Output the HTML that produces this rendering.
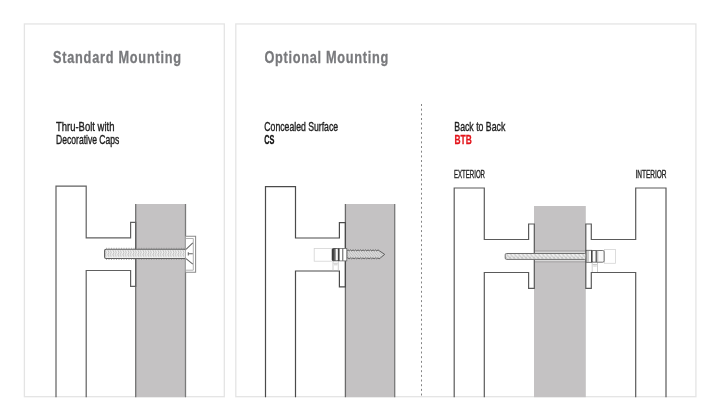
<!DOCTYPE html>
<html><head><meta charset="utf-8">
<style>
html,body{margin:0;padding:0;background:#fff;width:720px;height:420px;overflow:hidden}
svg{display:block;will-change:transform}
text{font-family:"Liberation Sans",sans-serif}
</style></head>
<body>
<svg width="720" height="420" viewBox="0 0 720 420">
<defs>
  <pattern id="dots" width="2.5" height="9.3" patternUnits="userSpaceOnUse" x="104.6" y="249.2">
    <rect width="2.5" height="9.3" fill="#efefef"/>
    <path d="M0.7,1 L1.8,3.2 L0.7,5.4 L1.8,7.6" fill="none" stroke="#a6a6a6" stroke-width="0.75"/>
  </pattern>
  <pattern id="hatch" width="4" height="4.4" patternUnits="userSpaceOnUse" x="505.2" y="254">
    <rect width="4" height="4.4" fill="#cdcdcd"/>
    <path d="M-1,0 L3.4,4.4 M3,0 L7.4,4.4 M-5,0 L-0.6,4.4" stroke="#f6f6f6" stroke-width="1.5"/>
    <path d="M0.3,4.2 L2.3,2.2" stroke="#a9a9a9" stroke-width="0.6"/>
  </pattern>
  <pattern id="sthread" width="2.5" height="8" patternUnits="userSpaceOnUse" patternTransform="skewX(40)">
    <rect width="2.5" height="8" fill="#dcdcdc"/>
    <rect x="0" y="0" width="1" height="8" fill="#bdbdbd"/>
  </pattern>
  <linearGradient id="cyl" x1="0" x2="1" y1="0" y2="0">
    <stop offset="0" stop-color="#1a1a1a"/>
    <stop offset="0.5" stop-color="#7a7a7a"/>
    <stop offset="0.68" stop-color="#f6f6f6"/>
    <stop offset="1" stop-color="#fff"/>
  </linearGradient>
  <linearGradient id="gband" x1="0" x2="1" y1="0" y2="0">
    <stop offset="0" stop-color="#4a4a4a"/>
    <stop offset="1" stop-color="#8a8a8a"/>
  </linearGradient>
</defs>

<!-- panels -->
<rect x="24.4" y="23.95" width="199.9" height="372.75" fill="none" stroke="#e4e4e4" stroke-width="1.3"/>
<rect x="235.8" y="23.95" width="460.1" height="372.75" fill="none" stroke="#e4e4e4" stroke-width="1.3"/>

<!-- titles -->
<text transform="translate(53,63) scale(0.75,1)" font-size="17" font-weight="bold" fill="#78797c" stroke="#78797c" stroke-width="0.3" textLength="170.7" lengthAdjust="spacing">Standard Mounting</text>
<text transform="translate(264.4,63) scale(0.75,1)" font-size="17" font-weight="bold" fill="#78797c" stroke="#78797c" stroke-width="0.3" textLength="165.3" lengthAdjust="spacing">Optional Mounting</text>

<!-- subtitles -->
<g fill="#1e1e1e" stroke="#1e1e1e" stroke-width="0.38">
<text x="56" y="130.8" font-size="11.9" textLength="58.4" lengthAdjust="spacingAndGlyphs">Thru-Bolt with</text>
<text x="56" y="143.5" font-size="11.9" textLength="63.4" lengthAdjust="spacingAndGlyphs">Decorative Caps</text>
<text x="264.3" y="130.8" font-size="11.9" textLength="73.8" lengthAdjust="spacingAndGlyphs">Concealed Surface</text>
<text x="454.3" y="130.7" font-size="11.9" textLength="51" lengthAdjust="spacingAndGlyphs">Back to Back</text>
<text x="454" y="177.9" font-size="10.9" textLength="31" lengthAdjust="spacingAndGlyphs">EXTERIOR</text>
<text x="635.4" y="177.9" font-size="10.9" textLength="31.2" lengthAdjust="spacingAndGlyphs">INTERIOR</text>
</g>
<text x="264.2" y="143.6" font-size="12.3" font-weight="bold" fill="#111" stroke="#111" stroke-width="0.3" textLength="10.2" lengthAdjust="spacingAndGlyphs">CS</text>
<text x="454.5" y="143.7" font-size="12.3" font-weight="bold" fill="#e3141b" stroke="#e3141b" stroke-width="0.3" textLength="17.3" lengthAdjust="spacingAndGlyphs">BTB</text>

<!-- dashed divider -->
<line x1="421.5" y1="104" x2="421.5" y2="397.2" stroke="#858585" stroke-width="1" stroke-dasharray="2 2.67"/>

<!-- ===== Diagram 1 ===== -->
<rect x="136" y="204" width="50" height="193.2" fill="#c4c2c3"/>
<line x1="135.7" y1="204" x2="135.7" y2="397.2" stroke="#727272" stroke-width="1.3"/>
<line x1="185.5" y1="204" x2="185.5" y2="397.2" stroke="#7a7a7a" stroke-width="1.3"/>
<path d="M56,397.2 V186.1 H86.2 V237.8 H130.6 V222.3 H135.7 V286.3 H130.6 V270.5 H86.2 V397.2" fill="none" stroke="#606060" stroke-width="1.2"/>
<!-- bolt -->
<rect x="104.6" y="249.2" width="81.4" height="9.3" rx="1.5" fill="url(#dots)" stroke="#5e5e5e" stroke-width="1.1"/>
<line x1="106" y1="248.3" x2="185" y2="248.3" stroke="#8a8a8a" stroke-width="0.7" stroke-dasharray="1 1.5"/>
<line x1="106" y1="259.4" x2="185" y2="259.4" stroke="#8a8a8a" stroke-width="0.7" stroke-dasharray="1 1.5"/>
<!-- cap -->
<path d="M185.7,236.2 H195.6 V272.3 H185.7" fill="#fff" stroke="#8a8a8a" stroke-width="1.05"/>
<path d="M185.7,238.5 H193.3 V270.2 H185.7" fill="none" stroke="#a8a8a8" stroke-width="0.9"/>
<path d="M186,249.3 L192.8,242.8 M186,258.7 L192.8,264.2 M192.8,253.8 H188.3 M188.3,252.2 V255.4" fill="none" stroke="#666" stroke-width="1.05"/>

<!-- ===== Diagram 2 ===== -->
<rect x="345.5" y="204" width="49.2" height="193.2" fill="#c4c2c3"/>
<line x1="345.4" y1="204" x2="345.4" y2="397.2" stroke="#6a6a6a" stroke-width="1.3"/>
<line x1="394.7" y1="204" x2="394.7" y2="397.2" stroke="#7a7a7a" stroke-width="1.3"/>
<path d="M265.5,397.2 V186.6 H295.5 V238 H339.4 V222.6 H345.4 V286.8 H339.4 V271 H295.5 V397.2" fill="none" stroke="#4a4a4a" stroke-width="1.2"/>
<!-- ghost rects -->
<rect x="314.2" y="248.4" width="18" height="12.8" fill="#fff" stroke="#d4d4d4" stroke-width="0.8"/>
<path d="M333,261 V270.5 M338.3,261 V270.5 M333.5,263.3 H337.8 M334,264.8 H337.5" fill="none" stroke="#c2c2c2" stroke-width="0.8"/>
<!-- screw -->
<path d="M346.8,250.8 L348.05,249.90 L349.30,250.80 L350.55,249.90 L351.80,250.80 L353.05,249.90 L354.30,250.80 L355.55,249.90 L356.80,250.80 L358.05,249.90 L359.30,250.80 L360.55,249.90 L361.80,250.80 L363.05,249.90 L364.30,250.80 L365.55,249.90 L366.80,250.80 L368.05,249.90 L369.30,250.80 L370.55,249.90 L371.80,250.80 L373.05,249.90 L374.30,250.80 L375.55,249.90 L376.80,250.80 L378.05,249.90 L379.30,250.80 L384.7,254.4 L380.4,257.9 L379.15,258.80 L377.90,257.90 L376.65,258.80 L375.40,257.90 L374.15,258.80 L372.90,257.90 L371.65,258.80 L370.40,257.90 L369.15,258.80 L367.90,257.90 L366.65,258.80 L365.40,257.90 L364.15,258.80 L362.90,257.90 L361.65,258.80 L360.40,257.90 L359.15,258.80 L357.90,257.90 L356.65,258.80 L355.40,257.90 L354.15,258.80 L352.90,257.90 L351.65,258.80 L350.40,257.90 L349.15,258.80 L347.90,257.90 L346.8,257.9 Z" fill="url(#sthread)" stroke="#5e5e5e" stroke-width="1"/>
<!-- threaded insert -->
<rect x="338.3" y="248.4" width="8.5" height="12.5" fill="#fff" stroke="#6a6a6a" stroke-width="0.8"/>
<rect x="332.2" y="248.5" width="6.1" height="12.3" rx="1.2" fill="url(#cyl)" stroke="#2a2a2a" stroke-width="0.7"/>
<line x1="338.9" y1="248.4" x2="338.9" y2="260.9" stroke="#333" stroke-width="1.3"/>
<line x1="342.8" y1="248.5" x2="342.8" y2="260.8" stroke="#555" stroke-width="1"/>

<!-- ===== Diagram 3 ===== -->
<rect x="534" y="206" width="51.8" height="191.2" fill="#c4c2c3"/>
<!-- hole bands -->
<line x1="534" y1="250.8" x2="586" y2="250.8" stroke="#acaaab" stroke-width="1.2"/>
<line x1="534" y1="252.4" x2="586" y2="252.4" stroke="#dcdcdc" stroke-width="1"/>
<line x1="534" y1="260.4" x2="586" y2="260.4" stroke="#dcdcdc" stroke-width="1"/>
<line x1="534" y1="261.9" x2="586" y2="261.9" stroke="#acaaab" stroke-width="1.2"/>
<path d="M454.2,397.2 V188 H484.3 V239.5 H528.6 V224 H534.3 V288.4 H528.6 V272.5 H484.3 V397.2" fill="none" stroke="#5a5a5a" stroke-width="1.2"/>
<path d="M666,397.2 V188 H635.7 V239.5 H591.3 V224 H585.8 V288.4 H591.3 V272.5 H635.7 V397.2" fill="none" stroke="#5a5a5a" stroke-width="1.2"/>
<!-- rod -->
<rect x="505.2" y="253.5" width="80.8" height="5.9" rx="1.3" fill="url(#hatch)" stroke="#707070" stroke-width="1"/>
<!-- ghost rects -->
<rect x="604.6" y="249.4" width="11" height="13.9" fill="#fff" stroke="#d4d4d4" stroke-width="0.8"/>
<path d="M592.2,262.2 V272 M597.5,262.2 V272 M592.7,264.5 H597 M593.2,266 H596.7" fill="none" stroke="#c2c2c2" stroke-width="0.8"/>
<!-- fitting -->
<rect x="586.2" y="250.3" width="5.5" height="12" fill="#fbfbfb" stroke="#555" stroke-width="0.8"/>
<line x1="588" y1="250.7" x2="588" y2="261.9" stroke="#8c8c8c" stroke-width="0.8"/>
<rect x="591.7" y="250.5" width="12.4" height="11.7" rx="1.3" fill="#fafafa" stroke="#505050" stroke-width="0.8"/>
<line x1="591.9" y1="250.5" x2="591.9" y2="262.2" stroke="#2e2e2e" stroke-width="1.1"/>
<rect x="595.6" y="250.6" width="1.9" height="11.5" fill="url(#gband)"/>
<line x1="598.2" y1="250.8" x2="598.2" y2="262" stroke="#cfcfcf" stroke-width="0.6"/>
</svg>
</body></html>
